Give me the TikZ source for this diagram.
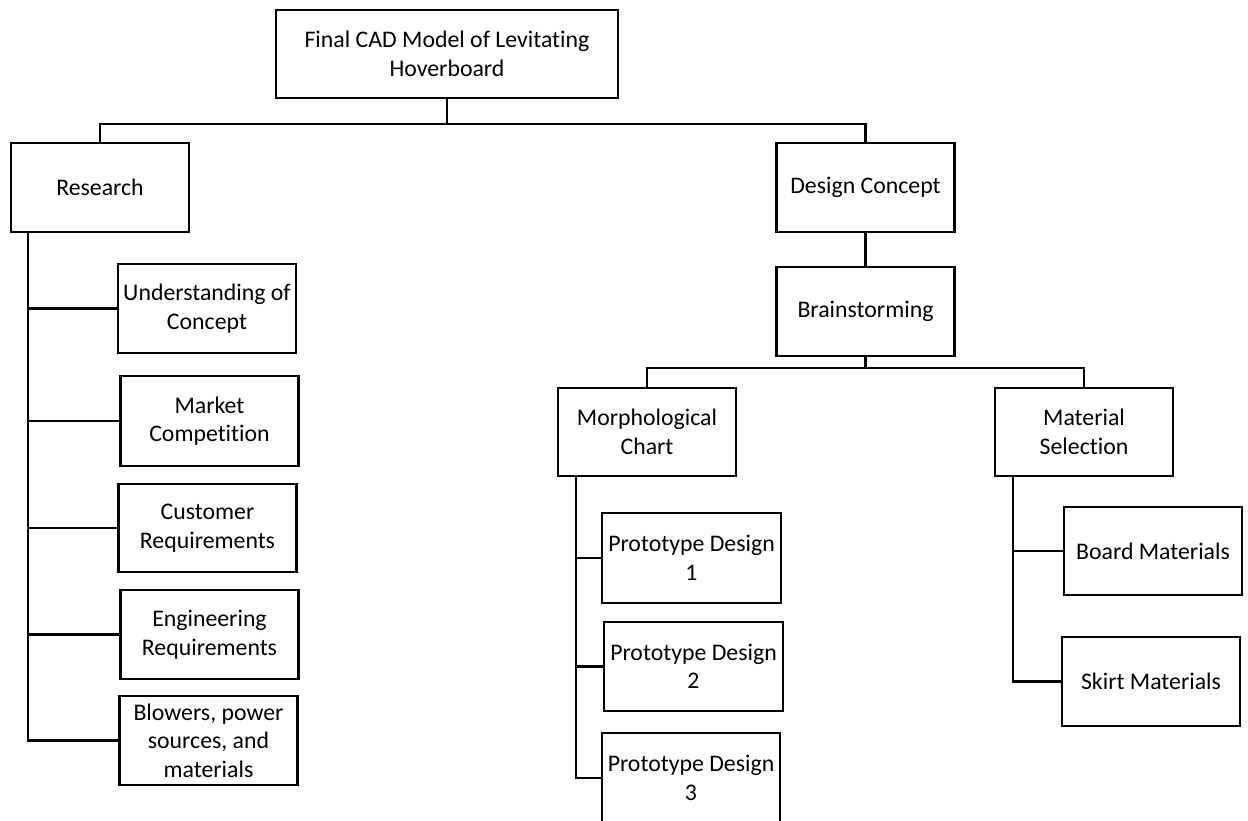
\documentclass[tikz,border=0pt]{standalone}
\usepackage{fontspec}
\setmainfont{Carlito}[Ligatures={NoCommon}]
\begin{document}
\begin{tikzpicture}[x=1pt,y=-1pt,
  box/.style={draw, line width=2.2pt, align=center, inner sep=0pt,
    minimum width=178pt, minimum height=89pt,
    font=\fontsize{23.8}{28.5}\selectfont},
  conn/.style={line width=2.2pt}]
\useasboundingbox[fill=white] (0,0) rectangle (1248,820);
% level 0
\node[box, minimum width=342pt, minimum height=88pt] (top) at (447,54) {Final CAD Model of Levitating\\Hoverboard};
% level 1
\node[box] (research) at (100,187.5) {Research};
\node[box] (design) at (865.5,187.5) {Design Concept};
\node[box] (brain) at (865.5,311.5) {Brainstorming};
\node[box, minimum height=88pt] (morph) at (647,432) {Morphological\\Chart};
\node[box, minimum height=88pt] (material) at (1084,432) {Material\\Selection};
% research children
\node[box] (under) at (207,308.5) {Understanding of\\Concept};
\node[box, minimum height=90pt] (market) at (209.5,421) {Market\\Competition};
\node[box, minimum height=88pt] (customer) at (207.5,528) {Customer\\Requirements};
\node[box] (engineering) at (209.5,634.5) {Engineering\\Requirements};
\node[box] (blowers) at (208.5,740.5) {Blowers, power\\sources, and\\materials};
% morph children
\node[box, minimum width=179pt, minimum height=90pt] (proto1) at (691.5,558) {Prototype Design\\1};
\node[box, minimum width=179pt] (proto2) at (693.5,666.5) {Prototype Design\\2};
\node[box, minimum height=90pt] (proto3) at (691,778) {Prototype Design\\3};
% material children
\node[box, minimum height=88pt] (board) at (1153,551) {Board Materials};
\node[box] (skirt) at (1151,681.5) {Skirt Materials};
% junction coordinates
\coordinate (tj) at (447,124);
\coordinate (bj) at (865.5,368);
\coordinate (rt) at (28,0);
\coordinate (mt) at (576,0);
\coordinate (st) at (1013,0);
% connectors
\draw[conn] (top.south) -- (tj);
\draw[conn] (research.north) -- (research.north |- tj) -- (design.north |- tj) -- (design.north);
\draw[conn] (design.south) -- (brain.north);
\draw[conn] (brain.south) -- (bj);
\draw[conn] (morph.north) -- (morph.north |- bj) -- (material.north |- bj) -- (material.north);
% research trunk
\draw[conn] (rt |- research.south) -- (rt |- blowers.west) -- (blowers.west);
\draw[conn] (rt |- under.west) -- (under.west);
\draw[conn] (rt |- market.west) -- (market.west);
\draw[conn] (rt |- customer.west) -- (customer.west);
\draw[conn] (rt |- engineering.west) -- (engineering.west);
% morph trunk
\draw[conn] (mt |- morph.south) -- (mt |- proto3.west) -- (proto3.west);
\draw[conn] (mt |- proto1.west) -- (proto1.west);
\draw[conn] (mt |- proto2.west) -- (proto2.west);
% material trunk
\draw[conn] (st |- material.south) -- (st |- skirt.west) -- (skirt.west);
\draw[conn] (st |- board.west) -- (board.west);
\end{tikzpicture}
\end{document}
